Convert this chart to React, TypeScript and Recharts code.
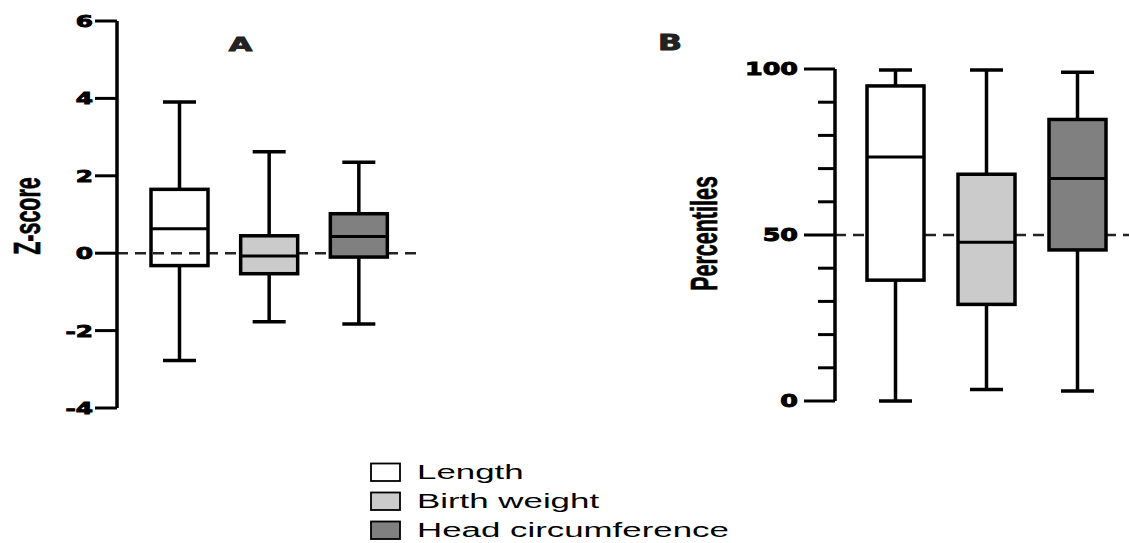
import React from 'react';
import { ComposedChart, Bar, XAxis, YAxis, ReferenceLine } from 'recharts';

// ---- data ----
const categories = ['Length', 'Birth weight', 'Head circumference'];
const boxFills = ['#ffffff', '#cbcbcb', '#808080'];

// Panel A: Z-scores
const zMin = [-2.77, -1.77, -1.83];
const zQ1 = [-0.32, -0.53, -0.1];
const zMedian = [0.63, -0.07, 0.43];
const zQ3 = [1.65, 0.45, 1.02];
const zMax = [3.91, 2.62, 2.35];
const zTicks = [-4, -2, 0, 2, 4, 6];
const zReference = 0;

// Panel B: Percentiles
const pMin = [0, 3.5, 3];
const pQ1 = [36.4, 29.1, 45.5];
const pMedian = [73.5, 47.8, 67];
const pQ3 = [94.9, 68.3, 84.8];
const pMax = [99.7, 99.7, 99];
const pTicks = [0, 10, 20, 30, 40, 50, 60, 70, 80, 90, 100];
const pLabeledTicks = [0, 50, 100];
const pReference = 50;

const panelTitles = ['A', 'B'];
const axisTitles = ['Z-score', 'Percentiles'];

type Row = { name: string; range: [number, number]; q1: number; median: number; q3: number; fill: string };

const buildRows = (mins: number[], q1s: number[], meds: number[], q3s: number[], maxs: number[], fills: string[]): Row[] =>
  categories.map((name, i) => ({
    name,
    range: [mins[i], maxs[i]],
    q1: q1s[i],
    median: meds[i],
    q3: q3s[i],
    fill: fills[i],
  }));

const zRows = buildRows(zMin, zQ1, zMedian, zQ3, zMax, ['none', boxFills[1], boxFills[2]]);
const pRows = buildRows(pMin, pQ1, pMedian, pQ3, pMax, boxFills);

const SW = 3.5;

const BoxShape = (props: any) => {
  const { x, y, width, height, payload } = props;
  const [lo, hi] = payload.range as [number, number];
  const top = Math.min(y, y + height);
  const h = Math.abs(height);
  const per = h / (hi - lo);
  const py = (v: number) => top + (hi - v) * per;
  const cx = x + width / 2;
  const capHalf = 16.5;
  return (
    <g>
      <line x1={cx} x2={cx} y1={py(hi)} y2={py(payload.q3)} stroke="#000" strokeWidth={SW} />
      <line x1={cx} x2={cx} y1={py(payload.q1)} y2={py(lo)} stroke="#000" strokeWidth={SW} />
      <line x1={cx - capHalf} x2={cx + capHalf} y1={py(hi)} y2={py(hi)} stroke="#000" strokeWidth={SW} />
      <line x1={cx - capHalf} x2={cx + capHalf} y1={py(lo)} y2={py(lo)} stroke="#000" strokeWidth={SW} />
      <rect x={x} y={py(payload.q3)} width={width} height={py(payload.q1) - py(payload.q3)} fill={payload.fill} stroke="#000" strokeWidth={SW} />
      <line x1={x} x2={x + width} y1={py(payload.median)} y2={py(payload.median)} stroke="#000" strokeWidth={3} />
    </g>
  );
};

const EmptyShape = () => <g />;

const ZTick = (props: any) => {
  const { x, y, payload } = props;
  return (
    <g>
      <line x1={x - 22} x2={x} y1={y} y2={y} stroke="#000" strokeWidth={3} />
      <text
        transform={`translate(${x - 24},${y}) scale(1.5,1)`}
        textAnchor="end"
        dy="0.36em"
        fontSize={16.5}
        fontWeight="bold"
        fontFamily="DejaVu Sans"
        fill="#000"
        stroke="#000"
        strokeWidth={0.9}
      >
        {String(payload.value)}
      </text>
    </g>
  );
};

const PTick = (props: any) => {
  const { x, y, payload } = props;
  const major = pLabeledTicks.includes(payload.value);
  return (
    <g>
      <line x1={x - (major ? 31 : 17)} x2={x} y1={y} y2={y} stroke="#000" strokeWidth={3} />
      {major && (
        <text
          transform={`translate(${x - 37},${y}) scale(1.45,1)`}
          textAnchor="end"
          dy="0.36em"
          fontSize={17.5}
          fontWeight="bold"
          fontFamily="DejaVu Sans"
          fill="#000"
          stroke="#000"
          strokeWidth={0.9}
        >
          {String(payload.value)}
        </text>
      )}
    </g>
  );
};

const NoTick = () => <g />;

export default function App() {
  const aMargin = { top: 21, right: 0, bottom: 12, left: 0 };
  const bMargin = { top: 69, right: 0, bottom: 12, left: 0 };
  return (
    <div style={{ position: 'absolute', left: 0, top: 0, width: 1129, height: 543, background: '#fff', overflow: 'hidden' }}>
      {/* dashed reference lines, drawn underneath the boxes */}
      <div style={{ position: 'absolute', left: 0, top: 0 }}>
        <ComposedChart width={422} height={420} data={zRows} margin={aMargin}>
          <XAxis dataKey="name" hide padding={{ left: 18, right: 18 }} />
          <YAxis type="number" domain={[-4, 6]} ticks={zTicks} width={117} axisLine={false} tickLine={false} tick={<NoTick />} />
          <Bar dataKey="range" barSize={57} shape={<EmptyShape />} isAnimationActive={false} />
          <ReferenceLine y={zReference} stroke="#222" strokeWidth={2.5} strokeDasharray="11 7" />
        </ComposedChart>
      </div>
      <div style={{ position: 'absolute', left: 680, top: 0 }}>
        <ComposedChart width={449} height={413} data={pRows} margin={bMargin}>
          <XAxis dataKey="name" hide padding={{ left: 15, right: 6 }} />
          <YAxis type="number" domain={[0, 100]} ticks={pTicks} width={155} axisLine={false} tickLine={false} tick={<NoTick />} />
          <Bar dataKey="range" barSize={57} shape={<EmptyShape />} isAnimationActive={false} />
          <ReferenceLine y={pReference} stroke="#222" strokeWidth={2.5} strokeDasharray="11 7" />
        </ComposedChart>
      </div>
      {/* axes and boxes */}
      <div style={{ position: 'absolute', left: 0, top: 0 }}>
        <ComposedChart width={422} height={420} data={zRows} margin={aMargin}>
          <XAxis dataKey="name" hide padding={{ left: 18, right: 18 }} />
          <YAxis
            type="number"
            domain={[-4, 6]}
            ticks={zTicks}
            width={117}
            tickSize={0}
            tickMargin={0}
            tickLine={false}
            axisLine={{ stroke: '#000', strokeWidth: 3.5 }}
            tick={<ZTick />}
            interval={0}
          />
          <Bar dataKey="range" barSize={57} shape={<BoxShape />} isAnimationActive={false} />
        </ComposedChart>
      </div>
      <div style={{ position: 'absolute', left: 680, top: 0 }}>
        <ComposedChart width={449} height={413} data={pRows} margin={bMargin}>
          <XAxis dataKey="name" hide padding={{ left: 15, right: 6 }} />
          <YAxis
            type="number"
            domain={[0, 100]}
            ticks={pTicks}
            width={155}
            tickSize={0}
            tickMargin={0}
            tickLine={false}
            axisLine={{ stroke: '#000', strokeWidth: 3.5 }}
            tick={<PTick />}
            interval={0}
          />
          <Bar dataKey="range" barSize={57} shape={<BoxShape />} isAnimationActive={false} />
        </ComposedChart>
      </div>
      <svg width={1129} height={543} style={{ position: 'absolute', left: 0, top: 0, pointerEvents: 'none' }}>
        <text transform="translate(240.5,51) scale(1.6,1)" textAnchor="middle" fontSize={19} fontWeight="bold" fontFamily="DejaVu Sans" fill="#222" stroke="#222" strokeWidth={0.9}>
          {panelTitles[0]}
        </text>
        <text transform="translate(670,49.5) scale(1.5,1)" textAnchor="middle" fontSize={21} fontWeight="bold" fontFamily="DejaVu Sans" fill="#222" stroke="#222" strokeWidth={0.9}>
          {panelTitles[1]}
        </text>
        <text transform="translate(40,216) rotate(-90) scale(1,1.7)" textAnchor="middle" fontSize={21.5} fontWeight="bold" fontFamily="Liberation Sans" fill="#000" stroke="#000" strokeWidth={0.4}>
          {axisTitles[0]}
        </text>
        <text transform="translate(717,233.5) rotate(-90) scale(1,1.7)" textAnchor="middle" fontSize={21.5} fontWeight="bold" fontFamily="Liberation Sans" fill="#000" stroke="#000" strokeWidth={0.4}>
          {axisTitles[1]}
        </text>
        {categories.map((c, i) => {
          const top = 463.5 + i * 29;
          return (
            <g key={c}>
              <rect x={371} y={top} width={29} height={17.5} fill={boxFills[i]} stroke="#000" strokeWidth={1.8} />
              <text
                transform={`translate(417,${top + 15.5}) scale(1.66,1)`}
                fontSize={21}
                fontFamily="Liberation Sans"
                fill="#000"
              >
                {c}
              </text>
            </g>
          );
        })}
      </svg>
    </div>
  );
}
